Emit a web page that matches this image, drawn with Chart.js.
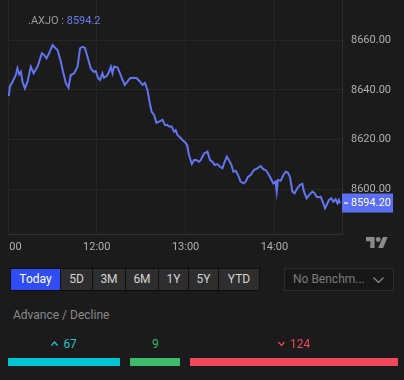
<!DOCTYPE html>
<html><head><meta charset="utf-8">
<script src="https://cdn.jsdelivr.net/npm/chart.js@4/dist/chart.umd.min.js"></script>
<style>
html,body{margin:0;padding:0;background:#1b1b1b;width:404px;height:380px;overflow:hidden;font-family:Roboto,"Noto Sans",sans-serif;}
#wrap{position:absolute;left:0;top:0;width:404px;height:258px;}
#title{position:absolute;left:28px;top:14px;font-size:11px;line-height:14px;color:#9a9a9a;white-space:nowrap;}
#title .v{color:#6b7cf2;}
#logo{position:absolute;left:366px;top:237px;width:22px;height:11px;}
#btns{position:absolute;left:10px;top:268px;height:21px;padding:1px;background:#0f0f0f;display:flex;gap:1px;}
#btns div{height:21px;line-height:21px;text-align:center;font-size:12px;color:#d4d4d4;background:#2e2e2e;}
#btns div.on{background:#2f4cf5;color:#fff;}
#dd{position:absolute;left:284px;top:268px;width:108px;height:21px;border:1px solid #2e2e2e;background:#171717;}
#dd span{position:absolute;left:8px;top:0;line-height:21px;font-size:12px;color:#7c7c7c;white-space:nowrap;}
#dd svg{position:absolute;left:88px;top:8px;}
#adtitle{position:absolute;left:13px;top:307px;font-size:12px;line-height:16px;color:#8a8a8a;}
#ad{position:absolute;left:8px;top:337px;width:390px;display:flex;gap:10px;}
#ad .seg{display:flex;flex-direction:column;align-items:center;}
#ad .lab{height:14px;line-height:14px;font-size:12px;display:flex;align-items:center;gap:5px;white-space:nowrap;}
#ad .bar{margin-top:7px;height:8px;width:100%;}
</style></head>
<body>
<div id="wrap"><canvas id="c" width="404" height="258"></canvas></div>
<div id="title"></div>
<svg id="logo" viewBox="0 4 36 18" preserveAspectRatio="none"><path fill="#8a8a8a" d="M14 22H7V11H0V4h14v18zM28 22h-8l7.5-18h8L28 22z"/><circle fill="#8a8a8a" cx="20" cy="8" r="4"/></svg>
<div id="btns"></div>
<div id="dd"><span>No Benchm...</span><svg width="11" height="6" viewBox="0 0 11 6"><polyline points="0.5,0.5 5.5,5.5 10.5,0.5" fill="none" stroke="#8a8a8a" stroke-width="1.2"/></svg></div>
<div id="adtitle">Advance / Decline</div>
<div id="ad"></div>
<script>
const symbol = '.AXJO';
const lastPrice = 8594.2;
const minutes = [0.6,1.2,3.1,4.2,5.3,6.4,7.5,8.7,9.8,11.4,13.2,15.4,17.3,20.0,22.9,24.4,26.0,27.8,30.1,31.8,33.5,35.7,37.2,39.1,40.9,42.4,44.7,47.0,48.7,50.3,51.9,53.7,55.9,57.8,59.3,60.9,62.2,63.8,64.9,66.8,68.3,69.5,70.6,71.7,74.0,75.7,77.4,78.9,80.7,82.5,84.8,87.0,89.2,90.9,92.6,94.2,95.8,97.1,98.7,100.3,102.1,104.4,106.1,107.7,108.8,110.6,112.2,113.3,114.5,116.7,117.9,120.1,121.2,122.3,124.2,125.7,127.3,129.1,130.2,132.5,134.8,136.5,138.1,139.7,141.5,143.3,144.9,146.4,147.8,149.3,151.0,152.3,153.9,155.4,157.2,159.1,160.6,162.2,164.0,166.2,168.5,170.7,172.6,174.1,175.7,177.5,179.3,180.9,181.6,182.4,184.3,186.1,187.6,189.2,190.5,192.2,193.7,195.5,197.3,198.9,200.0,201.8,203.4,205.7,207.2,208.6,210.1,211.3,213.1,214.2,215.3,216.9,218.5,219.8,221.4,222.6,223.6,224.3];
const values = [8637.5,8641.3,8643.3,8644.7,8646.0,8648.7,8646.3,8647.3,8643.3,8640.6,8643.3,8649.4,8646.7,8649.4,8654.8,8654.1,8652.7,8654.8,8658.1,8657.0,8656.1,8651.4,8647.3,8642.7,8640.9,8646.0,8646.7,8649.4,8656.8,8657.4,8657.0,8653.4,8648.7,8647.3,8647.6,8644.7,8644.0,8646.7,8644.9,8645.7,8647.3,8649.4,8646.7,8649.4,8649.0,8646.7,8644.0,8642.0,8643.3,8644.7,8644.9,8644.7,8643.3,8642.0,8642.8,8640.0,8634.7,8631.1,8629.9,8626.7,8627.2,8627.9,8625.8,8625.8,8625.2,8625.2,8623.1,8623.8,8621.8,8620.6,8619.8,8618.6,8617.4,8613.7,8610.1,8611.7,8611.7,8611.0,8611.7,8614.4,8615.1,8611.7,8611.0,8609.7,8610.1,8609.0,8608.4,8611.0,8613.1,8611.7,8609.7,8607.0,8607.4,8605.7,8603.0,8602.3,8603.0,8605.0,8605.7,8607.7,8608.4,8609.3,8608.0,8607.7,8606.4,8604.4,8602.3,8603.0,8599.0,8603.7,8603.4,8605.7,8607.0,8606.6,8605.0,8599.0,8598.3,8600.3,8601.7,8602.1,8599.0,8596.3,8597.6,8599.0,8598.3,8596.9,8596.7,8596.9,8594.3,8592.3,8593.6,8595.6,8596.3,8594.9,8595.9,8594.3,8595.6,8594.2];
const xTickMinutes = [0,60,120,180];
const xTickLabels = ['11:00','12:00','13:00','14:00'];
const yTicks = [8600,8620,8640,8660];
const ranges = ['Today','5D','3M','6M','1Y','5Y','YTD'];
const adLabels = ['67','9','124'];
const adValues = [67,9,124];
const adColors = ['#00c8d2','#3dbd6b','#f0475a'];
const adTextColors = ['#1fc3cc','#35b865','#f0475a'];
const adArrows = ['up','none','down'];

const LINE = '#6275f0';

document.getElementById('title').innerHTML = symbol + ' : <span class="v">' + lastPrice.toFixed(1) + '</span>';

const btnW = [49,31,32,32,29,29,40];
const btns = document.getElementById('btns');
ranges.forEach((r,i)=>{const d=document.createElement('div');d.textContent=r;d.style.width=btnW[i]+'px';if(i===0)d.className='on';btns.appendChild(d);});

// advance / decline bars: minimum width, rest proportional
(function(){
  const total = adValues.reduce((a,b)=>a+b,0);
  const avail = 390 - 10*(adValues.length-1);
  const minW = 50;
  const small = adValues.map(v=>v/total*avail < minW);
  const rest = avail - small.filter(Boolean).length*minW;
  const restSum = adValues.reduce((a,v,i)=>a+(small[i]?0:v),0);
  const ad = document.getElementById('ad');
  adValues.forEach((v,i)=>{
    const w = small[i] ? minW : v/restSum*rest;
    const seg = document.createElement('div'); seg.className='seg'; seg.style.width=w+'px';
    const lab = document.createElement('div'); lab.className='lab'; lab.style.color=adTextColors[i];
    if(adArrows[i]!=='none'){
      const pts = adArrows[i]==='up' ? '0.5,4.5 3.5,1 6.5,4.5' : '0.5,1 3.5,4.5 6.5,1';
      lab.innerHTML = '<svg width="7" height="6" viewBox="0 0 7 6"><polyline points="'+pts+'" fill="none" stroke="'+adTextColors[i]+'" stroke-width="1.2"/></svg>';
    }
    const t = document.createElement('span'); t.textContent = adLabels[i]; lab.appendChild(t);
    const bar = document.createElement('div'); bar.className='bar'; bar.style.background=adColors[i];
    seg.appendChild(lab); seg.appendChild(bar); ad.appendChild(seg);
  });
})();

const xLabelsPlugin = {
  id:'xlabels',
  afterDraw(chart){
    const {ctx, chartArea, scales} = chart;
    ctx.save();
    ctx.beginPath();
    ctx.rect(chartArea.left+1, chartArea.bottom, chartArea.right-chartArea.left, 30);
    ctx.clip();
    ctx.font = '11px Roboto';
    ctx.fillStyle = '#b0b0b0';
    ctx.textAlign = 'center';
    ctx.textBaseline = 'middle';
    xTickMinutes.forEach((m,i)=>ctx.fillText(xTickLabels[i], scales.x.getPixelForValue(m), 247));
    ctx.restore();
  }
};
const priceLabelPlugin = {
  id:'pricelabel',
  afterDraw(chart){
    const {ctx, chartArea, scales} = chart;
    const y = Math.round(scales.y.getPixelForValue(lastPrice));
    const x0 = chartArea.right;
    ctx.save();
    ctx.fillStyle = '#5b6ff2';
    ctx.fillRect(x0, y-9.5, 51, 19);
    ctx.fillStyle = '#ffffff';
    ctx.fillRect(x0+2, y-0.5, 4, 1.2);
    ctx.font = '11px Roboto';
    ctx.textAlign = 'left';
    ctx.textBaseline = 'middle';
    ctx.fillText(lastPrice.toFixed(2), x0+9, y+0.5);
    ctx.restore();
  }
};

new Chart(document.getElementById('c'), {
  type:'line',
  data:{datasets:[{data:minutes.map((m,i)=>({x:m,y:values[i]})), borderColor:LINE, borderWidth:2, pointRadius:0, tension:0, fill:false}]},
  options:{
    responsive:false, animation:false, events:[],
    layout:{padding:{left:8,top:0,right:0,bottom:0}},
    plugins:{legend:{display:false}, tooltip:{enabled:false}},
    scales:{
      x:{type:'linear', min:0, max:225.7,
        afterBuildTicks:s=>{s.ticks = xTickMinutes.map(v=>({value:v}));},
        afterFit:s=>{s.height=24; s.paddingLeft=0; s.paddingRight=0;},
        ticks:{display:false},
        grid:{color:'#262626', drawTicks:false},
        border:{color:'#2f2f2f'}
      },
      y:{type:'linear', position:'right', min:8581.9, max:8676.25,
        afterBuildTicks:s=>{s.ticks = yTicks.map(v=>({value:v}));},
        afterFit:s=>{s.width=62; s.paddingTop=0; s.paddingBottom=0;},
        ticks:{color:'#b0b0b0', font:{size:11, family:'Roboto'}, padding:9, callback:v=>Number(v).toFixed(2)},
        grid:{color:'#262626', drawTicks:false},
        border:{color:'#2f2f2f'}
      }
    }
  },
  plugins:[xLabelsPlugin, priceLabelPlugin]
});
</script>
</body></html>
